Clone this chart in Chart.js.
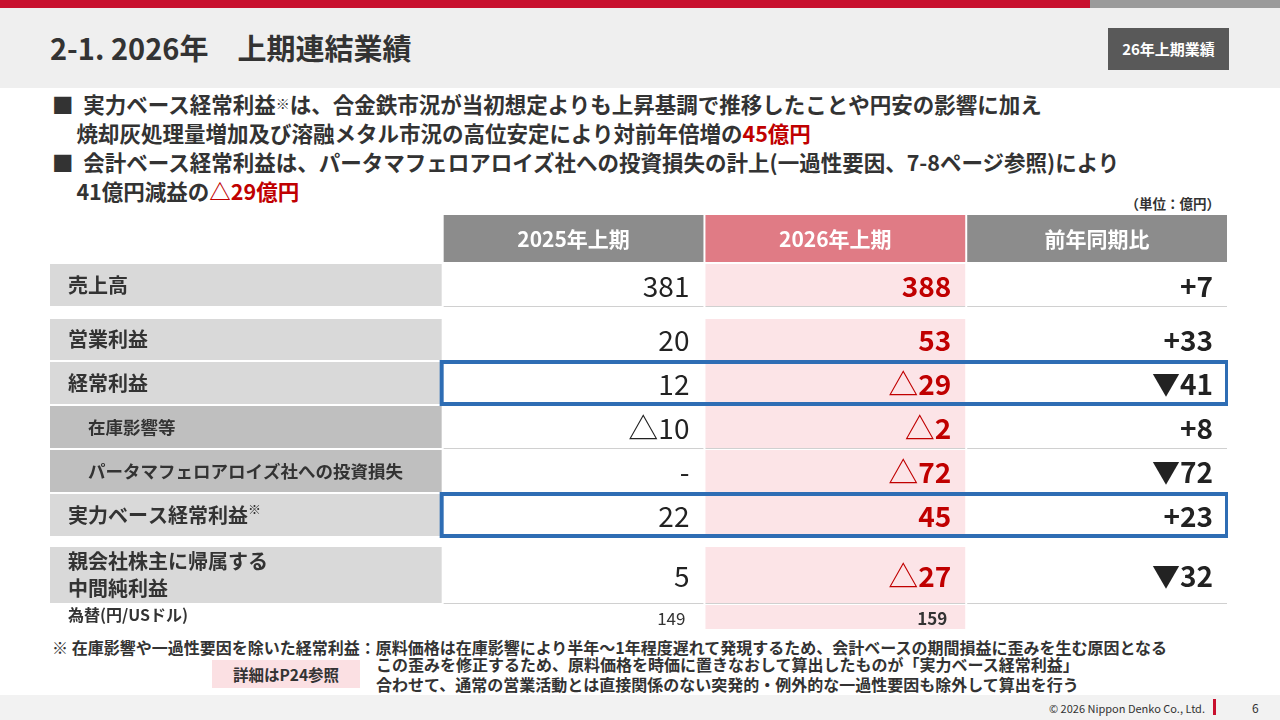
<!DOCTYPE html>
<html><head><meta charset="utf-8">
<script src="https://cdn.jsdelivr.net/npm/chart.js@4"></script>
<style>
body{margin:0;width:1280px;height:720px;position:relative;background:#fff;font-family:"Noto Sans CJK JP","Noto Sans",sans-serif;color:#333;overflow:hidden}
.a{position:absolute;white-space:nowrap}
.r{color:#c00000}
</style></head><body>
<div class="a" style="left:0;top:0;width:1280px;height:88px;background:#efefef"></div>
<div class="a" style="left:0;top:0;width:1090px;height:8px;background:#c8102e"></div>
<div class="a" style="left:1090px;top:0;width:190px;height:8px;background:#9a9a9a"></div>
<div class="a" style="left:50px;top:26px;font-size:29px;font-weight:bold;color:#333">2-1. 2026年　上期連結業績</div>
<div class="a" style="left:1108px;top:28px;width:121px;height:42px;background:#595959;color:#fff;font-size:15px;font-weight:bold;line-height:42px;text-align:center">26年上期業績</div>
<div class="a" style="left:52px;top:89px;font-size:21.5px;font-weight:bold;line-height:29px">■&nbsp;&nbsp;実力ベース経常利益<span style="font-size:14px;vertical-align:top">※</span>は、合金鉄市況が当初想定よりも上昇基調で推移したことや円安の影響に加え<br>&nbsp;&nbsp;&nbsp;&nbsp;&nbsp;焼却灰処理量増加及び溶融メタル市況の高位安定により対前年倍増の<span class="r">45億円</span></div>
<div class="a" style="left:52px;top:147px;font-size:21.5px;font-weight:bold;line-height:29px">■&nbsp;&nbsp;会計ベース経常利益は、パータマフェロアロイズ社への投資損失の計上(一過性要因、7-8ページ参照)により<br>&nbsp;&nbsp;&nbsp;&nbsp;&nbsp;41億円減益の<span class="r">△29億円</span></div>
<div class="a" style="right:60px;top:193px;font-size:13.5px;font-weight:bold">（単位：億円）</div>
<canvas id="c" class="a" style="left:50px;top:214px"></canvas>
<div class="a" style="left:52px;top:635px;font-size:16px;font-weight:bold">※ 在庫影響や一過性要因を除いた経常利益：原料価格は在庫影響により半年～1年程度遅れて発現するため、会計ベースの期間損益に歪みを生む原因となる</div>
<div class="a" style="left:212px;top:660px;width:148px;height:28px;background:#fbe0e3;font-size:15.5px;font-weight:bold;line-height:28px;text-align:center">詳細はP24参照</div>
<div class="a" style="left:376px;top:654px;font-size:16px;font-weight:bold;line-height:20px">この歪みを修正するため、原料価格を時価に置きなおして算出したものが「実力ベース経常利益」<br>合わせて、通常の営業活動とは直接関係のない突発的・例外的な一過性要因も除外して算出を行う</div>
<div class="a" style="left:0;top:695px;width:1280px;height:25px;background:#f2f2f2"></div>
<div class="a" style="right:75px;top:700px;font-size:11px;color:#333">© 2026 Nippon Denko Co., Ltd.</div>
<div class="a" style="left:1213px;top:699px;width:3px;height:16px;background:#c8102e"></div>
<div class="a" style="left:1252px;top:699px;font-size:12px">6</div>
<script>
const headers = ["", "2025年上期", "2026年上期", "前年同期比"];
const rows = ["売上高", "", "営業利益", "経常利益", "在庫影響等", "パータマフェロアロイズ社への投資損失", "実力ベース経常利益※", "", "親会社株主に帰属する\n中間純利益", "為替(円/USドル)"];
const v2025 = ["381", "", "20", "12", "△10", "-", "22", "", "5", "149"];
const v2026 = ["388", "", "53", "△29", "△2", "△72", "45", "", "△27", "159"];
const diffs = ["+7", "", "+33", "▼41", "+8", "▼72", "+23", "", "▼32", ""];

const colW = [1.5, 1, 1, 1];
const rowH = [49, 44, 11, 43, 44, 44, 44, 44, 9, 58, 26];
const rowKind = ["head","main","gap","main","main","sub","sub","main","gap","main","fx"];
const boxed = [4, 7];

const cv = document.getElementById('c');
cv.width = 1178; cv.height = 416;
const colEdges = [0]; colW.forEach(w => colEdges.push(colEdges[colEdges.length-1] + w));
const rowEdges = [0]; rowH.forEach(h => rowEdges.push(rowEdges[rowEdges.length-1] + h));

const tablePlugin = {
  id: 'table',
  afterDraw(chart) {
    const ctx = chart.ctx, xs = chart.scales.x, ys = chart.scales.y;
    const X = v => xs.getPixelForValue(v), Y = v => ys.getPixelForValue(v);
    const F = "'Noto Sans CJK JP', sans-serif";
    ctx.save();
    for (let r = 0; r < rowH.length; r++) {
      const kind = rowKind[r]; if (kind === 'gap') continue;
      const y0 = Y(rowEdges[r]) + 1, y1 = Y(rowEdges[r+1]) - 1, ym = (y0 + y1) / 2;
      const di = r - 1;
      for (let c = 0; c < 4; c++) {
        const x0 = X(colEdges[c]) + (c ? 1 : 0), x1 = X(colEdges[c+1]) - 1;
        let fill = null;
        if (kind === 'head') fill = c === 0 ? null : (c === 2 ? '#e07b85' : '#8c8c8c');
        else if (kind === 'fx') fill = c === 2 ? '#fce4e7' : null;
        else fill = c === 0 ? (kind === 'sub' ? '#bfbfbf' : '#d9d9d9') : (c === 2 ? '#fce4e7' : '#ffffff');
        if (fill) { ctx.fillStyle = fill; ctx.fillRect(x0, y0, x1 - x0, y1 - y0); }
        if (kind !== 'head' && kind !== 'fx' && c > 0) {
          ctx.strokeStyle = '#d0d0d0'; ctx.lineWidth = 1;
          ctx.beginPath(); ctx.moveTo(x0, y1 + 0.5); ctx.lineTo(x1, y1 + 0.5); ctx.stroke();
        }
        ctx.textBaseline = 'middle';
        if (kind === 'head') {
          if (c > 0) { ctx.fillStyle = '#fff'; ctx.font = `bold 21px ${F}`; ctx.textAlign = 'center'; ctx.fillText(headers[c], (x0 + x1) / 2, ym + 1); }
          continue;
        }
        if (c === 0) {
          const lab = rows[di];
          ctx.fillStyle = '#333'; ctx.textAlign = 'left';
          if (kind === 'fx') { ctx.font = `bold 16px ${F}`; ctx.fillText(lab, x0 + 18, ym - 2); continue; }
          ctx.font = kind === 'sub' ? `bold 17.5px ${F}` : `bold 20px ${F}`;
          const lines = lab.split('\n'), ind = kind === 'sub' ? 38 : 18;
          lines.forEach((ln, i) => {
            const yy = ym + (i - (lines.length - 1) / 2) * 27;
            if (ln.endsWith('※')) { const t = ln.slice(0, -1); ctx.fillText(t, x0 + ind, yy); const w = ctx.measureText(t).width; ctx.font = `bold 13px ${F}`; ctx.fillText('※', x0 + ind + w, yy - 6); }
            else ctx.fillText(ln, x0 + ind, yy);
          });
          continue;
        }
        const val = [null, v2025, v2026, diffs][c][di];
        if (!val) continue;
        if (kind === 'fx') {
          ctx.font = (c === 2 ? 'bold ' : '') + `17px ${F}`; ctx.fillStyle = '#333'; ctx.textAlign = 'right';
          ctx.fillText(val, x1 - 18, ym + 2); continue;
        }
        ctx.textAlign = 'right';
        if (c === 1) { ctx.font = `28px ${F}`; ctx.fillStyle = '#222'; }
        else if (c === 2) { ctx.font = `bold 28px ${F}`; ctx.fillStyle = '#c00000'; }
        else { ctx.font = `bold 28px ${F}`; ctx.fillStyle = '#222'; }
        if (val.startsWith('△')) {
          const rest = val.slice(1); const w = ctx.measureText(rest).width;
          ctx.fillText(rest, x1 - 14, ym + 1);
          const f = ctx.font; ctx.font = `30px ${F}`; ctx.fillText('△', x1 - 14 - w, ym + 1); ctx.font = f;
        } else ctx.fillText(val, x1 - 14, ym + 1);
      }
    }
    ctx.strokeStyle = '#2e6db4'; ctx.lineWidth = 4;
    boxed.forEach(r => { const y0 = Y(rowEdges[r]), y1 = Y(rowEdges[r+1]); ctx.strokeRect(X(colEdges[1]) - 1, y0 + 1, X(colEdges[4]) - X(colEdges[1]), y1 - y0 - 2); });
    ctx.restore();
  }
};

new Chart(cv, {
  type: 'scatter',
  data: { datasets: [{ data: [] }] },
  options: {
    responsive: false, animation: false, events: [],
    layout: { padding: 0 },
    plugins: { legend: { display: false }, tooltip: { enabled: false } },
    scales: {
      x: { type: 'linear', display: false, min: 0, max: colEdges[4] },
      y: { type: 'linear', display: false, min: 0, max: 416, reverse: true }
    }
  },
  plugins: [tablePlugin]
});
</script>
</body></html>
